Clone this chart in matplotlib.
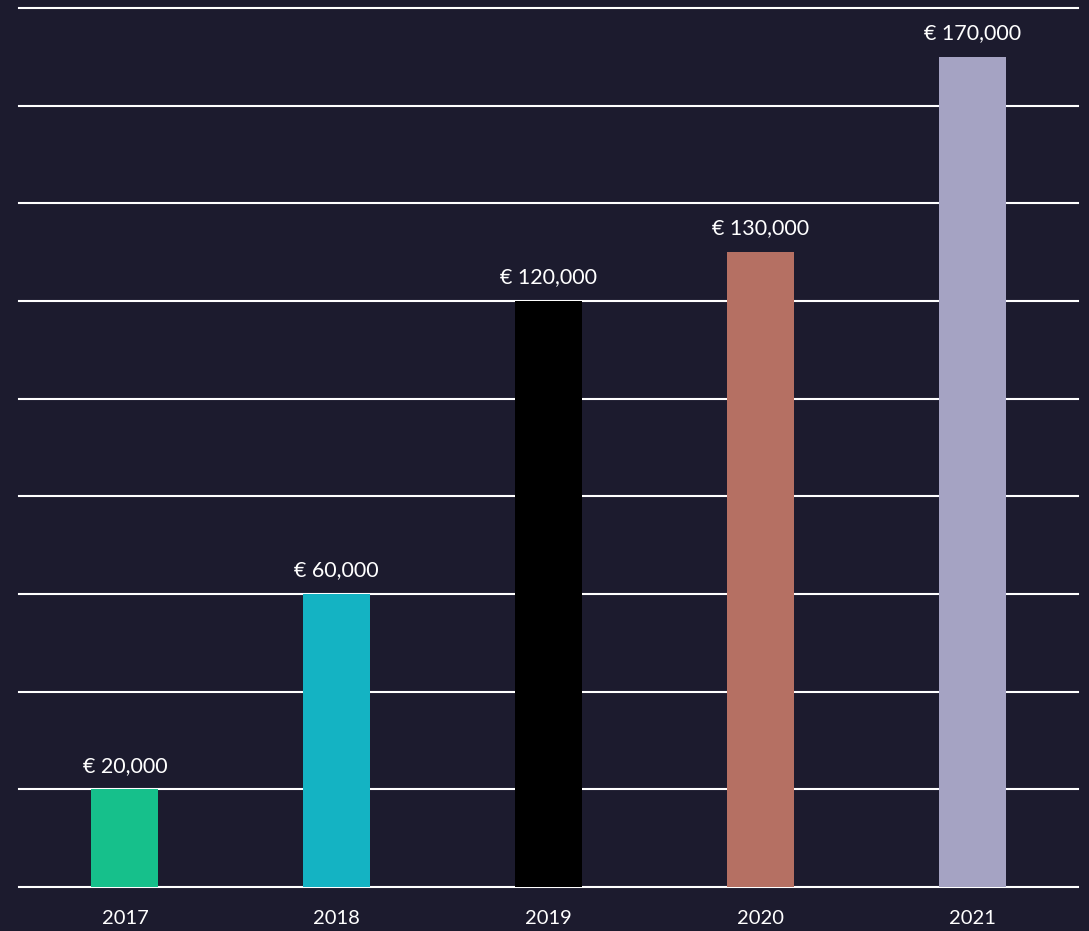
import matplotlib
matplotlib.use('Agg')
import matplotlib.pyplot as plt
import numpy as np

years = ['2017', '2018', '2019', '2020', '2021']
revenue = [20000, 60000, 120000, 130000, 170000]
bar_colors = ['#16c08b', '#14b3c3', '#000000', '#b57063', '#a5a3c3']

bg = '#1c1b2e'
plt.rcParams['font.family'] = ['Lato', 'DejaVu Sans']

fig = plt.figure(figsize=(10.89, 9.31), dpi=100, facecolor=bg)
ax = fig.add_axes([19 / 1089, 44 / 931, 1059 / 1089, 879 / 931], facecolor=bg)

x = np.arange(len(years))
ax.bar(x, revenue, width=0.316, color=bar_colors, zorder=3)
ax.set_xlim(-0.5, len(years) - 0.5)
ax.set_ylim(0, 180000)
ax.set_yticks(np.arange(0, 180001, 20000))
ax.yaxis.grid(True, color='white', linewidth=1.5, zorder=1)
for gl in ax.get_ygridlines():
    gl.set_clip_on(False)
ax.set_axisbelow(True)
ax.tick_params(axis='y', left=False, labelleft=False)
ax.tick_params(axis='x', bottom=False, colors='white', labelsize=14.5, pad=13)
ax.set_xticks(x)
ax.set_xticklabels(years)
for s in ax.spines.values():
    s.set_visible(False)

for i, v in enumerate(revenue):
    ax.text(i, v + 2800, f'€ {v:,}', ha='center', va='bottom', color='white', fontsize=15.5)

fig.savefig('out.png', dpi=100, facecolor=bg)
